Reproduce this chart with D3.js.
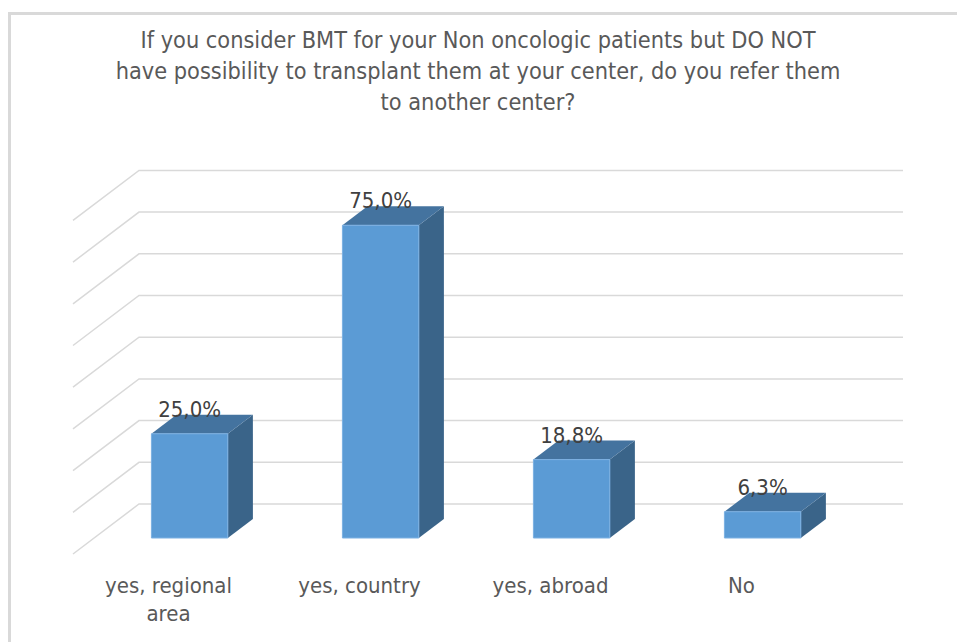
<!DOCTYPE html>
<html>
<head>
<meta charset="utf-8">
<script src="https://cdn.jsdelivr.net/npm/d3@7"></script>
<style>
html,body{margin:0;padding:0;background:#fff;}
svg{display:block;}
text{font-family:"Liberation Sans Narrow","DejaVu Sans Condensed","Arial Narrow",sans-serif;}
</style>
</head>
<body>
<svg id="chart" width="957" height="642"></svg>
<script>
// ---- data ----
const titleLines = [
  "If you consider BMT for your Non oncologic patients but DO NOT",
  "have possibility to transplant them at your center, do you refer them",
  "to another center?"
];
const categories = ["yes, regional area", "yes, country", "yes, abroad", "No"];
const categoryLines = [["yes, regional", "area"], ["yes, country"], ["yes, abroad"], ["No"]];
const values = [25.0, 75.0, 18.8, 6.3];
const valueLabels = ["25,0%", "75,0%", "18,8%", "6,3%"];
const tickValues = [0, 10, 20, 30, 40, 50, 60, 70, 80];

// ---- layout ----
const W = 957, H = 642;
const DX = 66, DY = 50;           // oblique depth offset (front -> back)
const zFront = 0.32, zBack = 0.70; // bar depth span
const svg = d3.select("#chart");

const x = d3.scaleBand().domain(categories).range([73, 837]);
const y = d3.scaleLinear().domain([0, 80]).range([554, 554 - 80 * 4.17]);
const P = (xb, v, z) => [xb + DX * z, y(v) - DY * z];
const barHalf = x.bandwidth() * 0.2;

// chart border
svg.append("path")
  .attr("d", `M${9.5},${H} V${13.5} H${W}`)
  .attr("fill", "none").attr("stroke", "#d9d9d9").attr("stroke-width", 3);

// title
svg.append("g").selectAll("text").data(titleLines).join("text")
  .attr("x", 478).attr("y", (d, i) => 48 + i * 31)
  .attr("text-anchor", "middle")
  .attr("font-size", 23.3).attr("fill", "#595959")
  .text(d => d);

// gridlines: back wall + left wall
const grid = svg.append("g").attr("stroke", "#d9d9d9").attr("stroke-width", 1.5).attr("fill", "none");
grid.selectAll("path").data(tickValues).join("path")
  .attr("d", v => {
    const a = P(x.range()[0], v, 0), b = P(x.range()[0], v, 1), c = P(x.range()[1], v, 1);
    return `M${a}L${b}L${c}`;
  });

// bars
const bars = svg.append("g").selectAll("g").data(categories).join("g");
bars.each(function (c, i) {
  const g = d3.select(this);
  const cx = x(c) + x.bandwidth() / 2;
  const x0 = cx - barHalf, x1 = cx + barHalf, v = values[i];
  const poly = pts => "M" + pts.map(p => p.join(",")).join("L") + "Z";
  // side
  g.append("path").attr("fill", "#3a6489")
    .attr("d", poly([P(x1, 0, zFront), P(x1, 0, zBack), P(x1, v, zBack), P(x1, v, zFront)]));
  // top
  g.append("path").attr("fill", "#44739f")
    .attr("d", poly([P(x0, v, zFront), P(x1, v, zFront), P(x1, v, zBack), P(x0, v, zBack)]));
  // front
  g.append("path").attr("fill", "#5b9bd5").attr("stroke", "#7cb0e2").attr("stroke-width", 1)
    .attr("d", poly([P(x0, 0, zFront), P(x1, 0, zFront), P(x1, v, zFront), P(x0, v, zFront)]));
  // value label
  const lp = P(cx, v, zBack);
  g.append("text")
    .attr("x", P(cx, v, zFront)[0]).attr("y", lp[1] + 2)
    .attr("text-anchor", "middle").attr("font-size", 22).attr("fill", "#404040")
    .text(valueLabels[i]);
});

// category labels
const cat = svg.append("g");
categories.forEach((c, i) => {
  const t = cat.append("text")
    .attr("x", x(c) + x.bandwidth() / 2).attr("y", 593)
    .attr("text-anchor", "middle").attr("font-size", 22).attr("fill", "#595959");
  categoryLines[i].forEach((line, j) => {
    t.append("tspan").attr("x", x(c) + x.bandwidth() / 2).attr("dy", j === 0 ? 0 : 28).text(line);
  });
});
</script>
</body>
</html>
